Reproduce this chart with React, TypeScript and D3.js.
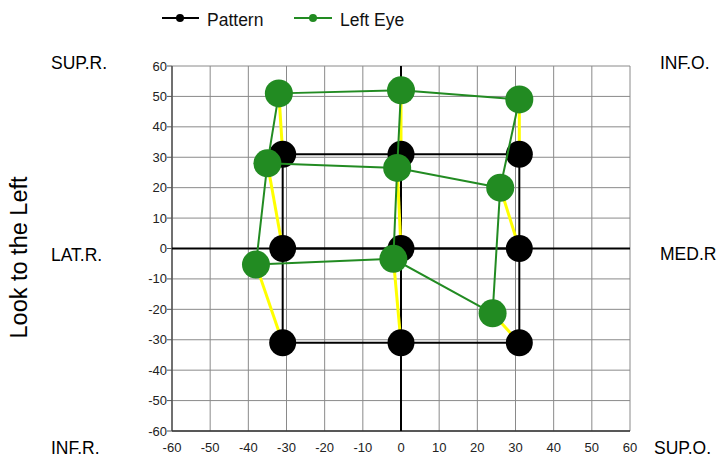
import React from "react";
import * as d3 from "d3";

const ticks = [-60, -50, -40, -30, -20, -10, 0, 10, 20, 30, 40, 50, 60];
const patternX = [-31, 0, 31, -31, 0, 31, -31, 0, 31];
const patternY = [31, 31, 31, 0, 0, 0, -31, -31, -31];
const leftEyeX = [-32, 0, 31, -35, -1, 26, -38, -2, 24];
const leftEyeY = [51, 52, 49, 28, 26.5, 20, -5.3, -3.4, -21.3];
const seriesNames = ["Pattern", "Left Eye"];
const cornerLabels = [
  { t: "SUP.R.", x: 51, y: 69 },
  { t: "LAT.R.", x: 51, y: 261 },
  { t: "INF.R.", x: 51, y: 454 },
  { t: "INF.O.", x: 660, y: 69 },
  { t: "MED.R", x: 660, y: 260 },
  { t: "SUP.O.", x: 654, y: 454 },
];
const yTitle = "Look to the Left";

const W = 720, H = 457;
const FONT = "'Liberation Sans', Arial, sans-serif";

export default function App() {
  const x = d3.scaleLinear().domain([-60, 60]).range([172, 630]);
  const y = d3.scaleLinear().domain([-60, 60]).range([431, 66]);
  const line = d3.line<[number, number]>().x(d => x(d[0])).y(d => y(d[1]));

  const gridSegs = (xs: number[], ys: number[]) => {
    const segs: [number, number][][] = [];
    for (let r = 0; r < 3; r++) {
      segs.push([0, 1, 2].map(c => [xs[r * 3 + c], ys[r * 3 + c]] as [number, number]));
    }
    for (let c = 0; c < 3; c++) {
      segs.push([0, 1, 2].map(r => [xs[r * 3 + c], ys[r * 3 + c]] as [number, number]));
    }
    return segs;
  };

  const patSegs = gridSegs(patternX, patternY);
  const eyeSegs = gridSegs(leftEyeX, leftEyeY);
  const green = "#228B22";

  return (
    <svg width={W} height={H} style={{ position: "absolute", left: 0, top: 0, background: "#fff" }} fontFamily={FONT}>
      {/* grid */}
      {ticks.map(t => (
        <line key={"gx" + t} x1={x(t)} x2={x(t)} y1={y(60)} y2={y(-60)} stroke="#8a8a8a" strokeWidth={1} />
      ))}
      {ticks.map(t => (
        <line key={"gy" + t} x1={x(-60)} x2={x(60)} y1={y(t)} y2={y(t)} stroke="#8a8a8a" strokeWidth={1} />
      ))}
      {/* left & bottom axes */}
      <line x1={x(-60)} x2={x(-60)} y1={y(60)} y2={y(-60)} stroke="#555" strokeWidth={1.5} />
      <line x1={x(-60)} x2={x(60)} y1={y(-60)} y2={y(-60)} stroke="#333" strokeWidth={1.5} />
      {ticks.map(t => (
        <line key={"tk" + t} x1={x(-60) - 5} x2={x(-60)} y1={y(t)} y2={y(t)} stroke="#555" strokeWidth={1} />
      ))}
      {/* zero axes */}
      <line x1={x(0)} x2={x(0)} y1={y(60)} y2={y(-60)} stroke="#000" strokeWidth={2} />
      <line x1={x(-60)} x2={x(60)} y1={y(0)} y2={y(0)} stroke="#000" strokeWidth={2} />
      {/* tick labels */}
      {ticks.map(t => (
        <text key={"yl" + t} x={x(-60) - 5} y={y(t) + 4.5} textAnchor="end" fontSize={13} fill="#222">{t}</text>
      ))}
      {ticks.map(t => (
        <text key={"xl" + t} x={x(t)} y={452} textAnchor="middle" fontSize={13} fill="#222">{t}</text>
      ))}
      {/* pattern lines */}
      {patSegs.map((s, i) => (
        <path key={"ps" + i} d={line(s) || ""} fill="none" stroke="#000" strokeWidth={2} />
      ))}
      {/* deviation lines */}
      {patternX.map((px, i) => (
        <line key={"dv" + i} x1={x(px)} y1={y(patternY[i])} x2={x(leftEyeX[i])} y2={y(leftEyeY[i])} stroke="#ffff00" strokeWidth={3} />
      ))}
      {/* pattern points */}
      {patternX.map((px, i) => (
        <circle key={"pp" + i} cx={x(px)} cy={y(patternY[i])} r={13.5} fill="#000" />
      ))}
      {/* left eye lines */}
      {eyeSegs.map((s, i) => (
        <path key={"es" + i} d={line(s) || ""} fill="none" stroke={green} strokeWidth={2} />
      ))}
      {/* left eye points */}
      {leftEyeX.map((ex, i) => (
        <circle key={"ep" + i} cx={x(ex)} cy={y(leftEyeY[i])} r={14} fill={green} />
      ))}
      {/* legend */}
      <line x1={162} x2={199} y1={18} y2={18} stroke="#000" strokeWidth={2} />
      <circle cx={180} cy={18} r={4} fill="#000" />
      <text x={207} y={26} fontSize={17.5} fill="#111">{seriesNames[0]}</text>
      <line x1={294} x2={332} y1={18} y2={18} stroke={green} strokeWidth={2} />
      <circle cx={313} cy={18} r={4} fill={green} />
      <text x={340} y={26} fontSize={17.5} fill="#111">{seriesNames[1]}</text>
      {/* corner labels */}
      {cornerLabels.map(c => (
        <text key={c.t} x={c.x} y={c.y} fontSize={17.5} fill="#000">{c.t}</text>
      ))}
      <text transform={`translate(27,257.5) rotate(-90)`} textAnchor="middle" fontSize={23.5} fill="#000">{yTitle}</text>
    </svg>
  );
}
